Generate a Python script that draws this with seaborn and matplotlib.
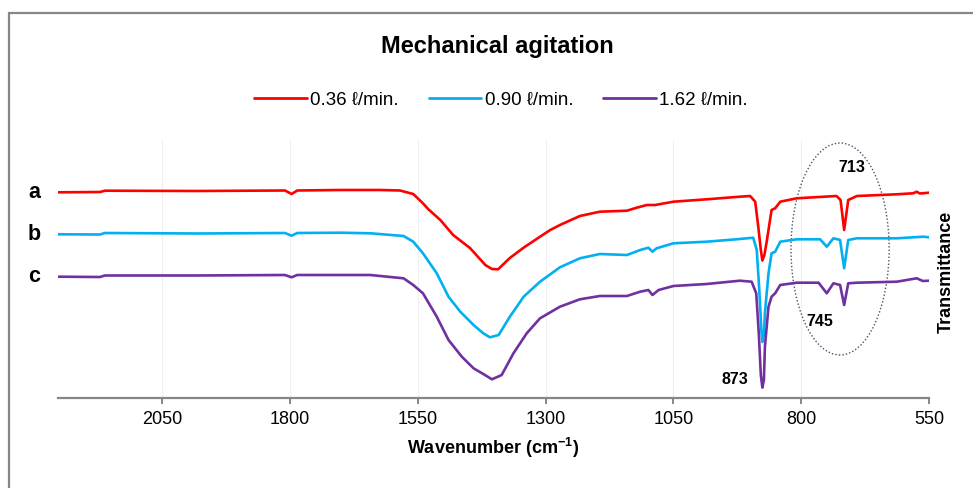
import numpy as np
import pandas as pd
import matplotlib
matplotlib.use("Agg")
import matplotlib.pyplot as plt
from matplotlib.patches import Ellipse, Rectangle
import seaborn as sns

# ---------------- data ----------------
series_names = ["0.36 ℓ/min.", "0.90 ℓ/min.", "1.62 ℓ/min."]
series_colors = ["#FF0000", "#00B0F0", "#7030A0"]
curve_labels = ["a", "b", "c"]

wn_a = [2254, 2172, 2162, 1982, 1810, 1797, 1786, 1702, 1624, 1585, 1559, 1540, 1530,
        1506, 1481, 1448, 1418, 1405, 1393, 1370, 1344, 1311, 1291, 1272, 1233, 1194,
        1141, 1122, 1102, 1086, 1050, 985, 920, 900, 890, 884, 879, 876, 872, 867, 858,
        851, 841, 809, 731, 723, 716, 708, 691, 613, 581, 574, 568, 550]
tr_a = [207.7, 208.0, 209.3, 209.0, 209.5, 206.0, 209.5, 210.0, 210.0, 209.5, 206.0,
        196.7, 191.0, 180.0, 165.0, 152.0, 135.0, 131.0, 130.7, 142.0, 152.0, 163.3,
        170.0, 175.0, 184.0, 188.3, 189.3, 192.3, 195.0, 195.0, 198.3, 200.7, 203.3,
        204.0, 198.3, 173.3, 150.0, 139.5, 145.0, 160.0, 190.0, 191.7, 198.3, 201.7,
        204.0, 200.0, 170.0, 200.0, 204.0, 205.7, 206.7, 208.3, 206.5, 207.3]

wn_b = [2254, 2172, 2162, 1982, 1810, 1797, 1786, 1702, 1643, 1578, 1559, 1540, 1513,
        1490, 1467, 1441, 1422, 1409, 1392, 1370, 1343, 1311, 1272, 1233, 1194, 1141,
        1115, 1099, 1091, 1083, 1050, 985, 920, 894, 887, 882, 878, 876, 873, 871, 864,
        858, 851, 841, 809, 763, 750, 737, 724, 716, 708, 691, 613, 561, 550]
tr_b = [165.7, 165.5, 167.0, 166.5, 167.0, 164.3, 167.0, 167.3, 166.7, 164.0, 158.3,
        146.7, 126.7, 103.3, 88.3, 75.0, 66.7, 62.7, 65.0, 83.3, 103.3, 118.3, 132.7,
        141.7, 146.0, 145.0, 150.0, 152.3, 148.3, 151.7, 156.7, 158.3, 161.0, 162.3,
        150.0, 110.0, 70.0, 58.0, 65.0, 87.0, 126.7, 146.7, 148.3, 158.3, 160.7, 160.7,
        153.3, 161.7, 160.0, 131.7, 160.0, 161.7, 161.7, 163.3, 162.7]

wn_c = [2254, 2172, 2162, 1982, 1810, 1797, 1786, 1702, 1643, 1578, 1559, 1540, 1513,
        1490, 1464, 1441, 1422, 1405, 1386, 1363, 1337, 1311, 1272, 1233, 1194, 1141,
        1115, 1099, 1091, 1079, 1050, 985, 920, 897, 888, 883, 879, 876, 873, 871, 864,
        858, 851, 841, 809, 766, 750, 737, 724, 716, 708, 691, 613, 574, 562, 550]
tr_c = [123.3, 123.0, 124.5, 124.5, 125.0, 122.7, 125.0, 125.0, 125.0, 121.7, 115.0,
        106.7, 83.3, 60.0, 43.3, 31.7, 26.0, 20.7, 25.0, 46.7, 66.7, 81.7, 93.3, 100.7,
        104.0, 104.0, 108.3, 110.0, 105.0, 110.0, 114.0, 116.0, 119.3, 118.3, 106.7,
        66.7, 25.0, 12.4, 20.0, 53.3, 93.3, 103.3, 106.7, 115.0, 117.3, 117.3, 106.7,
        116.7, 115.0, 95.0, 116.7, 117.3, 118.3, 121.7, 119.0, 119.3]

x_ticks = [2050, 1800, 1550, 1300, 1050, 800, 550]
peak_labels = ["873", "745", "713"]

# ---------------- build table ----------------
frames = []
for name, wn, tr in zip(series_names, [wn_a, wn_b, wn_c], [tr_a, tr_b, tr_c]):
    frames.append(pd.DataFrame({"Wavenumber": wn, "Transmittance": tr, "Series": name}))
df = pd.concat(frames, ignore_index=True)

# ---------------- style ----------------
sns.set_style("white")
plt.rcParams["font.family"] = ["Liberation Sans", "DejaVu Sans"]
plt.rcParams["text.color"] = "black"
plt.rcParams["axes.labelcolor"] = "black"
plt.rcParams["xtick.color"] = "black"
plt.rcParams["mathtext.fontset"] = "custom"
plt.rcParams["mathtext.rm"] = "Liberation Sans"
plt.rcParams["mathtext.bf"] = "Liberation Sans:bold"

W, H = 973, 488
fig = plt.figure(figsize=(W / 100, H / 100), dpi=100)
ax = fig.add_axes([58 / W, 1 - 398 / H, (929 - 58) / W, (398 - 140) / H])

sns.lineplot(data=df, x="Wavenumber", y="Transmittance", hue="Series",
             palette=dict(zip(series_names, series_colors)), estimator=None,
             sort=False, linewidth=1.9, ax=ax)
for ln in ax.get_lines():
    ln.set_solid_joinstyle("round")

ax.set_xlim(2254, 550)
ax.set_ylim(2, 260)
ax.set_xticks(x_ticks)
ax.set_xticklabels([str(t) for t in x_ticks], fontsize=13)
ax.set_yticks([])
ax.set_ylabel("")
ax.set_xlabel(r"Wavenumber (cm$^{\mathbf{-1}}$)", fontsize=13, fontweight="bold",
              labelpad=6, color="black")
ax.grid(axis="x", color="#EFEFEF", linewidth=0.8)
ax.set_axisbelow(True)
for s in ["top", "left", "right"]:
    ax.spines[s].set_visible(False)
ax.spines["bottom"].set_color("#868686")
ax.spines["bottom"].set_linewidth(1.6)
ax.tick_params(axis="x", direction="out", length=4, width=1.4, color="#868686",
               pad=5, labelcolor="black", bottom=True)

sns.move_legend(ax, "center", bbox_to_anchor=(501 / W, 1 - 100 / H),
                bbox_transform=fig.transFigure, ncol=3, frameon=False, title=None,
                fontsize=13.5, handlelength=2.8, handletextpad=0.18, columnspacing=1.6)
for line in ax.get_legend().get_lines():
    line.set_linewidth(2.0)
for t in ax.get_legend().get_texts():
    t.set_color("black")

# title
fig.text(497 / W, 1 - 47 / H, "Mechanical agitation", ha="center", va="center",
         fontsize=17, fontweight="bold", color="black")

# curve letters
for lab, yv in zip(curve_labels, [192, 234, 276]):
    fig.text(34 / W, 1 - yv / H, lab, ha="center", va="center", fontsize=15.5,
             fontweight="bold", color="black")

# peak labels
for lab, (px, py) in zip(peak_labels, [(735, 380), (820, 322), (852, 168)]):
    fig.text(px / W, 1 - py / H, lab, ha="center", va="center", fontsize=11.5,
             fontweight="bold", color="black")

# right label
fig.text(946 / W, 1 - 272 / H, "Transmittance", rotation=90, ha="center",
         va="center", fontsize=13, fontweight="bold", color="black")

# dotted ellipse around 745/713 bands
ax.add_patch(Ellipse((724, 151), 192, 212, fill=False, linestyle=(0, (1, 1.5)),
                     edgecolor="#44546A", linewidth=1.0, clip_on=False))

# chart border
fig.patches.append(Rectangle((9 / W, -0.2), 1.2, 1.2 - 12.5 / H, transform=fig.transFigure,
                             fill=False, edgecolor="#878787", linewidth=1.6))

fig.savefig("out.png", dpi=100)
